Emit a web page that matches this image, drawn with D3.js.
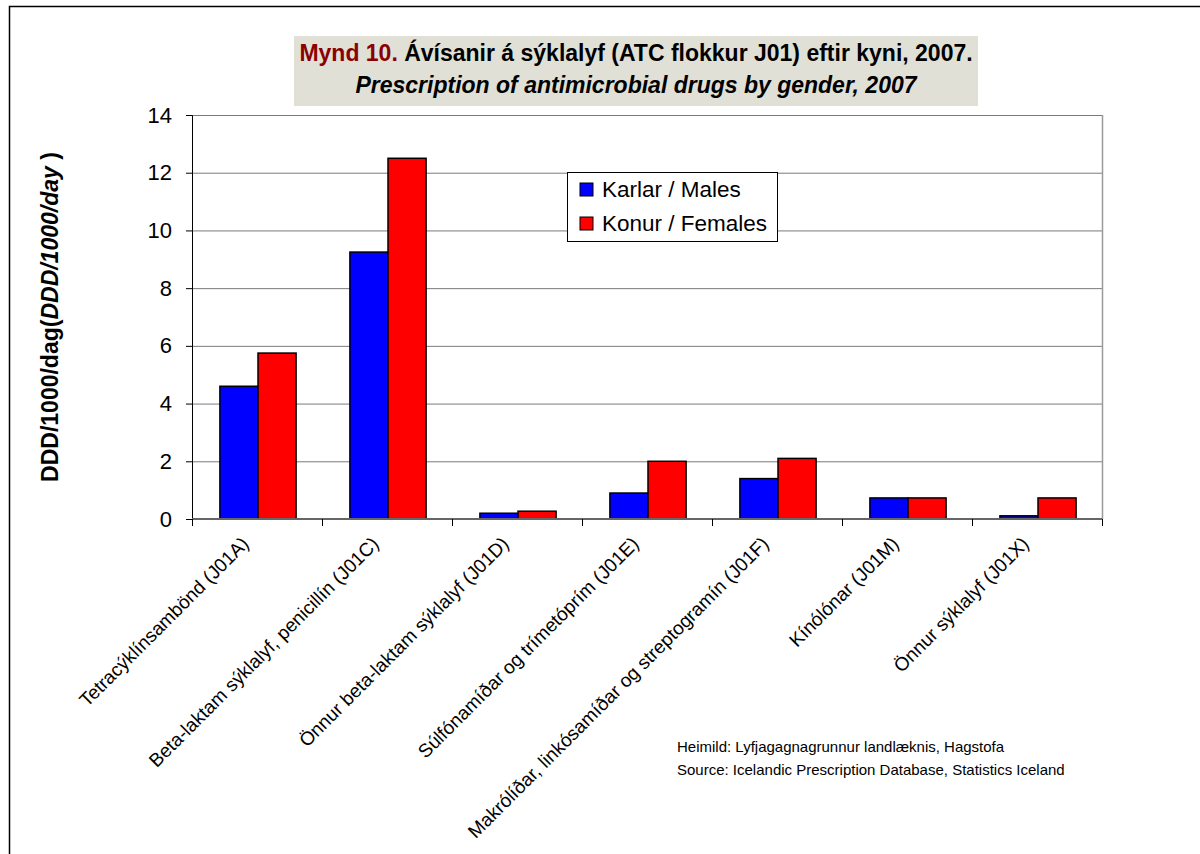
<!DOCTYPE html>
<html>
<head>
<meta charset="utf-8">
<script src="https://cdn.jsdelivr.net/npm/d3@7"></script>
<style>
  body { margin: 0; background: #fff; }
  svg { display: block; font-family: "Liberation Sans", Arial, sans-serif; }
</style>
</head>
<body>
<svg id="canvas" width="1200" height="854"></svg>
<script>
// data
let categories = [
    'Tetracýklínsambönd (J01A)',
    'Beta-laktam sýklalyf, penicillín (J01C)',
    'Önnur beta-laktam sýklalyf (J01D)',
    'Súlfónamíðar og trímetóprím (J01E)',
    'Makrólíðar, linkósamíðar og streptogramín (J01F)',
    'Kínólónar (J01M)',
    'Önnur sýklalyf (J01X)'
]
let males = [4.6, 9.25, 0.2, 0.9, 1.4, 0.73, 0.11]
let females = [5.75, 12.5, 0.27, 2.0, 2.1, 0.73, 0.73]
let seriesNames = ['Karlar / Males', 'Konur / Females']
let seriesColors = ['#0000ff', '#ff0000']
let yTicks = [0, 2, 4, 6, 8, 10, 12, 14]

let canvas = d3.select('#canvas')

// outer frame (open on the right and bottom like the screenshot)
canvas.append('path')
    .attr('d', 'M9.5,854 V6.5 H1200')
    .attr('fill', 'none')
    .attr('stroke', '#000')
    .attr('stroke-width', 1.5)

let pLeft = 192, pRight = 1102, pTop = 115, pBottom = 519

let x = d3.scaleBand().domain(categories).range([pLeft, pRight])
let x1 = d3.scaleBand().domain(seriesNames).range([2, x.bandwidth()]).paddingInner(0).paddingOuter(0.68)
let y = d3.scaleLinear().domain([0, 14]).range([pBottom, pTop])

// gridlines
canvas.append('g')
    .selectAll('line')
    .data(yTicks.filter(d => d > 0))
    .enter().append('line')
    .attr('x1', pLeft).attr('x2', pRight)
    .attr('y1', d => y(d) + 0.5).attr('y2', d => y(d) + 0.5)
    .attr('stroke', '#7a7a7a')
    .attr('stroke-width', 1)

// plot right border
canvas.append('line')
    .attr('x1', pRight + 0.5).attr('x2', pRight + 0.5)
    .attr('y1', pTop).attr('y2', pBottom)
    .attr('stroke', '#9a9a9a').attr('stroke-width', 1.5)

// bars
let groups = canvas.append('g')
    .selectAll('g')
    .data(categories)
    .enter().append('g')
    .attr('transform', d => 'translate(' + x(d) + ',0)')

groups.selectAll('rect')
    .data((d, i) => [{s: 0, v: males[i]}, {s: 1, v: females[i]}])
    .enter().append('rect')
    .attr('x', d => x1(seriesNames[d.s]))
    .attr('y', d => y(d.v))
    .attr('width', x1.bandwidth())
    .attr('height', d => pBottom - y(d.v))
    .attr('fill', d => seriesColors[d.s])
    .attr('stroke', '#000')
    .attr('stroke-width', 1.5)

// y axis
let yAxis = canvas.append('g')
    .attr('transform', 'translate(' + pLeft + ',0)')
    .call(d3.axisLeft(y).tickValues(yTicks).tickSize(6).tickPadding(14))
yAxis.select('.domain').attr('stroke', '#000').attr('stroke-width', 1)
yAxis.selectAll('.tick line').attr('stroke', '#000')
yAxis.selectAll('text')
    .style('font-size', '22px')
    .style('font-family', '"Liberation Sans", Arial, sans-serif')
    .attr('fill', '#000')

// x axis
let xAxis = canvas.append('g')
    .attr('transform', 'translate(0,' + pBottom + ')')
    .call(d3.axisBottom(x).tickSize(0).tickFormat(''))
xAxis.select('.domain').attr('stroke', '#666').attr('stroke-width', 2)
    .attr('d', 'M' + pLeft + ',0H' + pRight)
canvas.append('g')
    .selectAll('line')
    .data(d3.range(categories.length + 1))
    .enter().append('line')
    .attr('x1', i => pLeft + i * x.step() + 0.5)
    .attr('x2', i => pLeft + i * x.step() + 0.5)
    .attr('y1', pBottom).attr('y2', pBottom + 7)
    .attr('stroke', '#000').attr('stroke-width', 1)

// category labels, rotated
canvas.append('g')
    .selectAll('text')
    .data(categories)
    .enter().append('text')
    .attr('transform', d => 'translate(' + (x(d) + x.bandwidth() / 2 - 7) + ',' + (pBottom + 26) + ') rotate(-45)')
    .attr('text-anchor', 'end')
    .style('font-size', '19px')
    .text(d => d)

// y axis title
let yTitle = canvas.append('text')
    .attr('transform', 'translate(58,' + 317 + ') rotate(-90)')
    .attr('text-anchor', 'middle')
    .style('font-size', '23px')
    .style('font-weight', 'bold')
yTitle.append('tspan').text('DDD/1000/dag(')
yTitle.append('tspan').style('font-style', 'italic').text('DDD/1000/day')
yTitle.append('tspan').text(' )')

// title box
canvas.append('rect')
    .attr('x', 294).attr('y', 36)
    .attr('width', 684).attr('height', 70)
    .attr('fill', '#e0e0d6')
let t1 = canvas.append('text')
    .attr('x', 636).attr('y', 61)
    .attr('text-anchor', 'middle')
    .style('font-size', '23px')
    .style('font-weight', 'bold')
t1.append('tspan').attr('fill', '#8b0000').text('Mynd 10. ')
t1.append('tspan').attr('fill', '#000').text('Ávísanir á sýklalyf (ATC flokkur J01) eftir kyni, 2007.')
canvas.append('text')
    .attr('x', 636).attr('y', 93)
    .attr('text-anchor', 'middle')
    .style('font-size', '23px')
    .style('font-weight', 'bold')
    .style('font-style', 'italic')
    .text('Prescription of antimicrobial drugs by gender, 2007')

// legend
let legend = canvas.append('g').attr('transform', 'translate(567,172)')
legend.append('rect')
    .attr('x', 0.5).attr('y', 0.5)
    .attr('width', 210).attr('height', 69)
    .attr('fill', '#fff').attr('stroke', '#000').attr('stroke-width', 1)
let items = legend.selectAll('g.item')
    .data(seriesNames)
    .enter().append('g')
    .attr('class', 'item')
    .attr('transform', (d, i) => 'translate(13,' + (11 + i * 34) + ')')
items.append('rect')
    .attr('width', 13).attr('height', 13)
    .attr('fill', (d, i) => seriesColors[i])
    .attr('stroke', '#000').attr('stroke-width', 1)
items.append('text')
    .attr('x', 22).attr('y', 14)
    .style('font-size', '22.5px')
    .text(d => d)

// source
canvas.append('text')
    .attr('x', 677).attr('y', 752)
    .style('font-size', '15px')
    .text('Heimild: Lyfjagagnagrunnur landlæknis, Hagstofa')
canvas.append('text')
    .attr('x', 677).attr('y', 775)
    .style('font-size', '15px')
    .text('Source: Icelandic Prescription Database, Statistics Iceland')
</script>
</body>
</html>
